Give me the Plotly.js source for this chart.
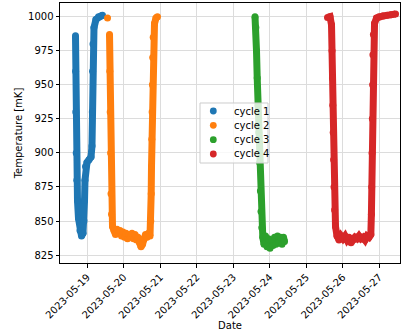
<!DOCTYPE html>
<html>
<head>
<meta charset="utf-8">
<script src="https://cdn.plot.ly/plotly-3.0.1.min.js"></script>
<style>
  html, body { margin: 0; padding: 0; background: #fff; }
  #chart { width: 401px; height: 331px; }
</style>
</head>
<body>
<div id="chart"></div>
<script>
// Mixing-chamber temperature logged over four cooldown cycles.
const cycleNames = ["cycle 1", "cycle 2", "cycle 3", "cycle 4"];
const cycleColors = ["#1f77b4", "#ff7f0e", "#2ca02c", "#d62728"];

const cycle1Time = [
  "2023-05-18 16:14", "2023-05-18 16:18", "2023-05-18 16:26", "2023-05-18 16:42",
  "2023-05-18 17:06", "2023-05-18 17:33", "2023-05-18 18:13", "2023-05-18 19:12",
  "2023-05-18 20:11", "2023-05-18 21:10", "2023-05-18 21:50", "2023-05-18 22:10",
  "2023-05-18 22:29", "2023-05-18 22:49", "2023-05-18 23:48", "2023-05-19 01:07",
  "2023-05-19 02:26", "2023-05-19 03:05", "2023-05-19 03:17", "2023-05-19 03:29",
  "2023-05-19 03:45", "2023-05-19 04:24", "2023-05-19 05:43", "2023-05-19 07:22",
  "2023-05-19 09:00", "2023-05-19 09:59"
];
const cycle1Temp = [
  986, 960, 930, 900,
  880, 865, 852, 843,
  839, 841, 850, 865,
  880, 890, 893, 895,
  897, 905, 930, 960,
  980, 992, 998, 1000,
  1000.5, 1001
];

// The null entry is a gap in the log between the first reading and the rest.
const cycle2Time = [
  "2023-05-19 13:17", "2023-05-19 13:56", "2023-05-19 14:36", "2023-05-19 14:48", "2023-05-19 15:03",
  "2023-05-19 15:19", "2023-05-19 15:35", "2023-05-19 15:55", "2023-05-19 16:34",
  "2023-05-19 17:33", "2023-05-19 18:33", "2023-05-19 19:32", "2023-05-19 20:31",
  "2023-05-19 21:30", "2023-05-19 22:29", "2023-05-19 23:28", "2023-05-20 00:28",
  "2023-05-20 01:27", "2023-05-20 02:26", "2023-05-20 03:25", "2023-05-20 04:24",
  "2023-05-20 05:23", "2023-05-20 06:23", "2023-05-20 07:22", "2023-05-20 08:21",
  "2023-05-20 09:20", "2023-05-20 10:19", "2023-05-20 11:19", "2023-05-20 12:18",
  "2023-05-20 13:17", "2023-05-20 14:16", "2023-05-20 15:15", "2023-05-20 16:14",
  "2023-05-20 17:14", "2023-05-20 17:45", "2023-05-20 18:01", "2023-05-20 18:13",
  "2023-05-20 18:25", "2023-05-20 18:37", "2023-05-20 18:48", "2023-05-20 19:00",
  "2023-05-20 19:20", "2023-05-20 20:11", "2023-05-20 21:10", "2023-05-20 22:09"
];
const cycle2Temp = [
  999, null, 987, 960, 930,
  900, 870, 855, 846,
  843, 840, 844, 841,
  843, 839, 842, 838,
  841, 837, 840, 838,
  841, 837, 840, 836,
  838, 834, 831, 833,
  837, 840, 838, 841,
  839, 850, 870, 890,
  910, 930, 950, 970,
  985, 995, 999, 1000
];

const cycle3Time = [
  "2023-05-23 14:16", "2023-05-23 14:48", "2023-05-23 15:15", "2023-05-23 15:43",
  "2023-05-23 16:14", "2023-05-23 16:46", "2023-05-23 17:18", "2023-05-23 17:49",
  "2023-05-23 18:13", "2023-05-23 18:44", "2023-05-23 19:24", "2023-05-23 20:11",
  "2023-05-23 21:10", "2023-05-23 22:10", "2023-05-23 23:09", "2023-05-24 00:08",
  "2023-05-24 01:07", "2023-05-24 02:06", "2023-05-24 03:05", "2023-05-24 04:05",
  "2023-05-24 05:04", "2023-05-24 06:03", "2023-05-24 07:02", "2023-05-24 08:01",
  "2023-05-24 09:00", "2023-05-24 09:40"
];
const cycle3Temp = [
  1000, 992, 975, 955,
  935, 915, 893, 872,
  857, 845, 838, 833,
  839, 831, 837, 830,
  836, 832, 838, 833,
  839, 834, 838, 833,
  838, 835
];

const cycle4Time = [
  "2023-05-25 13:56", "2023-05-25 15:35", "2023-05-25 16:34", "2023-05-25 16:54",
  "2023-05-25 17:10", "2023-05-25 17:25", "2023-05-25 17:41", "2023-05-25 17:57",
  "2023-05-25 18:13", "2023-05-25 18:36", "2023-05-25 19:12", "2023-05-25 20:11",
  "2023-05-25 21:30", "2023-05-25 22:49", "2023-05-26 00:08", "2023-05-26 01:27",
  "2023-05-26 02:46", "2023-05-26 04:05", "2023-05-26 05:24", "2023-05-26 06:42",
  "2023-05-26 08:01", "2023-05-26 09:20", "2023-05-26 10:39", "2023-05-26 11:58",
  "2023-05-26 13:17", "2023-05-26 14:36", "2023-05-26 15:55", "2023-05-26 17:14",
  "2023-05-26 18:25", "2023-05-26 18:48", "2023-05-26 19:00", "2023-05-26 19:12",
  "2023-05-26 19:24", "2023-05-26 19:36", "2023-05-26 19:48", "2023-05-26 20:07",
  "2023-05-26 20:51", "2023-05-26 22:10", "2023-05-26 23:48", "2023-05-27 02:26",
  "2023-05-27 05:05", "2023-05-27 07:42", "2023-05-27 10:40"
];
const cycle4Temp = [
  999.5, 1000, 994, 975,
  955, 935, 915, 895,
  875, 858, 846, 839,
  836, 839, 837, 839,
  836, 838, 834, 836,
  838, 837, 839, 837,
  838, 836, 839, 838,
  840, 855, 875, 900,
  925, 950, 972, 987,
  995, 999, 1000, 1000.5,
  1001, 1001.5, 1002
];

const cycleTimes = [cycle1Time, cycle2Time, cycle3Time, cycle4Time];
const cycleTemps = [cycle1Temp, cycle2Temp, cycle3Temp, cycle4Temp];

const FONT = "DejaVu Sans, sans-serif";
const DOT = 7;

// Dense logging makes each cycle read as a thick band: a wide stroke joins
// the samples, and a round marker sits on every sample.
const traces = cycleNames.map((name, i) => ({
  type: "scatter", mode: "lines+markers", name: name,
  x: cycleTimes[i], y: cycleTemps[i],
  connectgaps: false,
  line: { color: cycleColors[i], width: DOT },
  marker: { color: cycleColors[i], size: DOT },
  showlegend: false
}));

// Compact legend box in the middle of the axes (paper coordinates).
const legendBox = { x0: 0.4118, x1: 0.6118, y0: 0.3846, y1: 0.6154 };
const legendRowTop = 0.5846;     // first entry centre
const legendRowStep = 0.0551;    // spacing between entries
const legendDotX = 0.4509;
const legendTextX = 0.5049;

const shapes = [{
  type: "rect", xref: "paper", yref: "paper", layer: "above",
  x0: legendBox.x0, x1: legendBox.x1, y0: legendBox.y0, y1: legendBox.y1,
  fillcolor: "rgba(255,255,255,0.8)", line: { color: "#cccccc", width: 1 }
}];
const annotations = [];
cycleNames.forEach((name, i) => {
  const yc = legendRowTop - i * legendRowStep;
  shapes.push({
    type: "circle", layer: "above",
    xref: "paper", yref: "paper",
    xsizemode: "pixel", ysizemode: "pixel",
    xanchor: legendDotX, yanchor: yc,
    x0: -3.4, x1: 3.4, y0: -3.4, y1: 3.4,
    fillcolor: cycleColors[i], line: { width: 0 }
  });
  annotations.push({
    xref: "paper", yref: "paper", x: legendTextX, y: yc,
    xanchor: "left", yanchor: "middle", showarrow: false,
    text: name, font: { family: FONT, size: 10, color: "#000" }
  });
});

const axisCommon = {
  showline: true, linecolor: "#000", linewidth: 1, mirror: true,
  ticks: "outside", ticklen: 3.5, tickwidth: 1, tickcolor: "#000",
  showgrid: true, gridcolor: "#dcdcdc", gridwidth: 1,
  zeroline: false,
  tickfont: { family: FONT, size: 10, color: "#000" }
};

const layout = {
  width: 401, height: 331,
  margin: { l: 60, r: 1, t: 3, b: 68 },
  paper_bgcolor: "#fff", plot_bgcolor: "#fff",
  font: { family: FONT, size: 10, color: "#000" },
  xaxis: Object.assign({}, axisCommon, {
    type: "date",
    range: ["2023-05-18 06:03", "2023-05-27 13:36"],
    tick0: "2023-05-19", dtick: 86400000,
    tickformat: "%Y-%m-%d", tickangle: -45,
    title: { text: "Date", font: { family: FONT, size: 10, color: "#000" }, standoff: 4 }
  }),
  yaxis: Object.assign({}, axisCommon, {
    range: [819.16, 1010.06],
    tick0: 825, dtick: 25,
    title: { text: "Temperature [mK]", font: { family: FONT, size: 10, color: "#000" }, standoff: 3 }
  }),
  shapes: shapes,
  annotations: annotations,
  showlegend: false
};

Plotly.newPlot("chart", traces, layout, { displayModeBar: false, staticPlot: true });
</script>
</body>
</html>
